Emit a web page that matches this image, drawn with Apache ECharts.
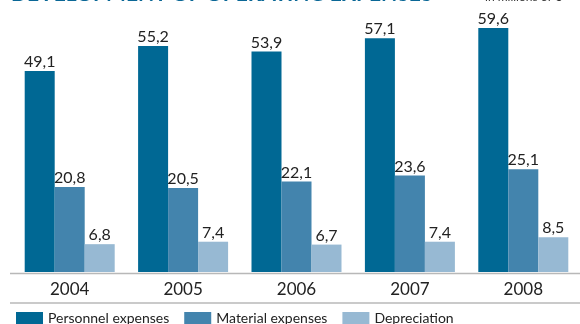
<!DOCTYPE html>
<html>
<head>
<meta charset="utf-8">
<script src="https://cdn.jsdelivr.net/npm/echarts@6/dist/echarts.min.js"></script>
<style>
  html, body { margin: 0; padding: 0; background: #fff; }
  #chart { width: 580px; height: 324px; }
</style>
</head>
<body>
<div id="chart"></div>
<script>
// Operating expenses per year, in millions of €
const years = ['2004', '2005', '2006', '2007', '2008'];
const personnel = [49.1, 55.2, 53.9, 57.1, 59.6];
const material = [20.8, 20.5, 22.1, 23.6, 25.1];
const depreciation = [6.8, 7.4, 6.7, 7.4, 8.5];
const seriesNames = ['Personnel expenses', 'Material expenses', 'Depreciation'];

const FONT = 'Lato, "Noto Sans", sans-serif';
const colors = ['#006894', '#4384ad', '#97b9d3'];

const chart = echarts.init(document.getElementById('chart'), null, { renderer: 'canvas' });

function barSeries(name, data, color) {
  return {
    name: name,
    type: 'bar',
    data: data,
    barWidth: 30,
    barGap: '0%',
    itemStyle: { color: color },
    label: {
      show: true,
      position: 'top',
      distance: 1,
      color: '#222',
      fontFamily: FONT,
      fontSize: 16,
      formatter: p => String(p.value).replace('.', ',')
    }
  };
}

chart.setOption({
  animation: false,
  color: colors,
  grid: { left: 13, right: 0, top: 6, bottom: 52, containLabel: false },
  xAxis: {
    type: 'category',
    data: years,
    axisLine: { show: false },
    axisTick: { show: false },
    axisLabel: { color: '#222', fontFamily: FONT, fontSize: 17, margin: 9 }
  },
  yAxis: {
    type: 'value',
    min: 0,
    max: 65,
    show: false,
    splitLine: { show: false }
  },
  legend: {
    data: seriesNames,
    left: 11,
    top: 306,
    icon: 'rect',
    itemWidth: 27,
    itemHeight: 12,
    itemGap: 15,
    textStyle: { color: '#222', fontFamily: FONT, fontSize: 14 }
  },
  graphic: [
    {
      type: 'text',
      x: 11,
      y: 5,
      style: {
        text: 'DEVELOPMENT OF OPERATING EXPENSES',
        fill: '#0a6796',
        font: 'bold 21px ' + FONT,
        verticalAlign: 'bottom'
      }
    },
    {
      type: 'text',
      x: 485,
      y: 3,
      style: {
        text: 'in millions of €',
        fill: '#333',
        font: '12px ' + FONT,
        verticalAlign: 'bottom'
      }
    },
    {
      type: 'line',
      shape: { x1: 10, y1: 273.5, x2: 580, y2: 273.5 },
      style: { stroke: '#b8b8b8', lineWidth: 1.5 }
    },
    {
      type: 'line',
      shape: { x1: 10, y1: 303, x2: 580, y2: 303 },
      style: { stroke: '#b8b8b8', lineWidth: 1.5 }
    }
  ],
  series: [
    barSeries(seriesNames[0], personnel, colors[0]),
    barSeries(seriesNames[1], material, colors[1]),
    barSeries(seriesNames[2], depreciation, colors[2])
  ]
});
</script>
</body>
</html>
